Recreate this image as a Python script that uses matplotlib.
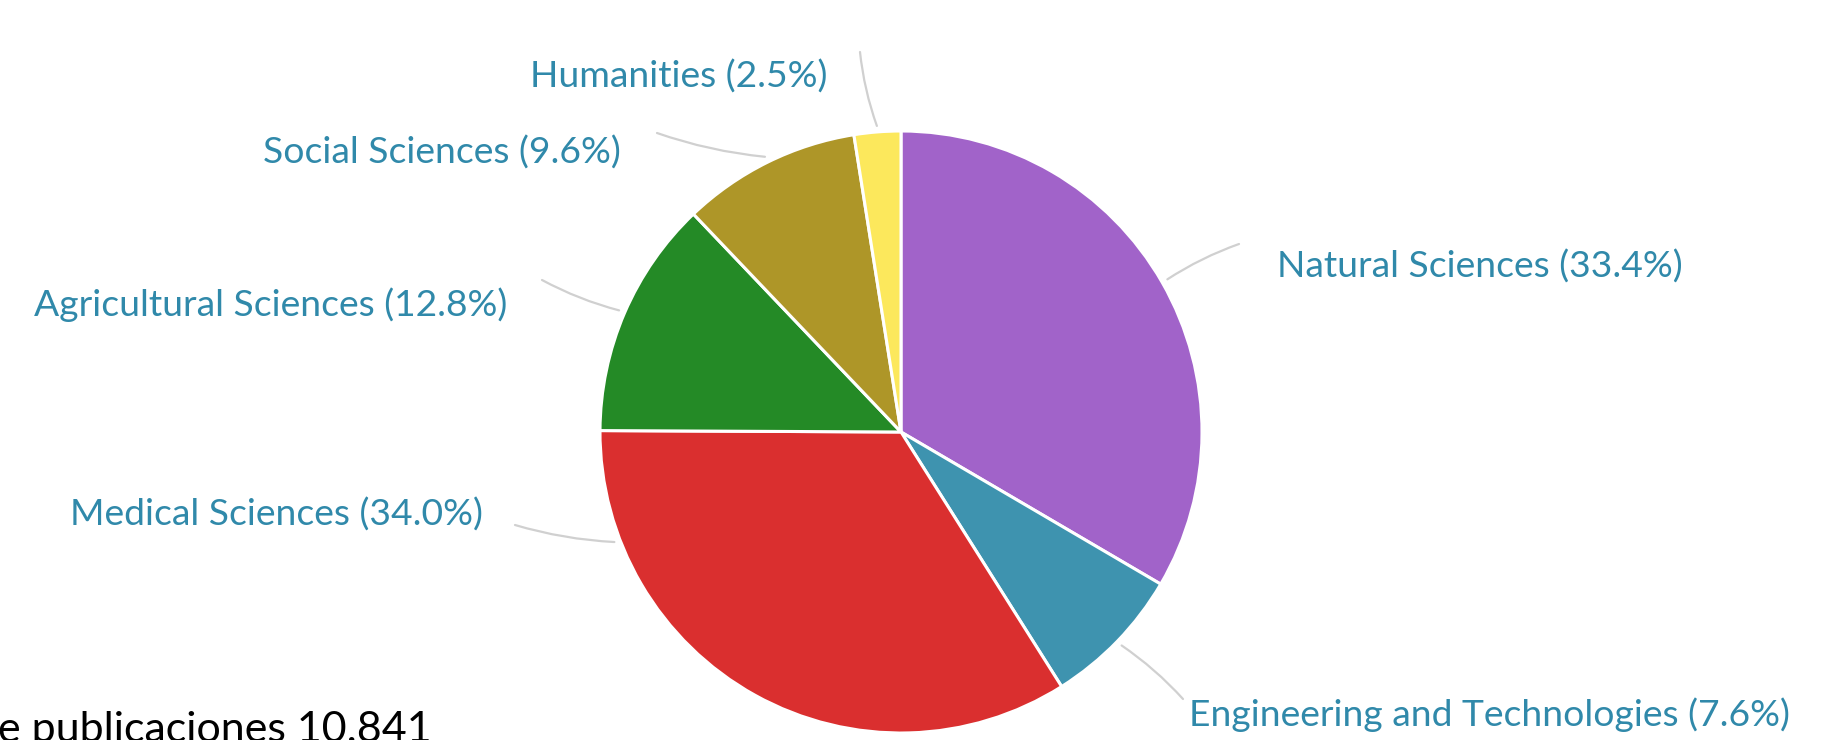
import numpy as np
import matplotlib
matplotlib.use("Agg")
import matplotlib.pyplot as plt

# share of publications by field (%), clockwise from 12 o'clock
fields = ["Natural Sciences", "Engineering and Technologies", "Medical Sciences",
          "Agricultural Sciences", "Social Sciences", "Humanities"]
shares = [33.4, 7.6, 34.0, 12.8, 9.6, 2.5]
colors = ["#A163C9", "#3E93AF", "#DA2F2F", "#248A26", "#AE9628", "#FCE85C"]
total_text = "e publicaciones 10.841"

# figure is laid out in pixels, y measured from the top of the image
W, H = 1837, 740
CENTER = (901, 432)
RADIUS = 301

# label anchor (px, top-origin), alignment, connector outer end, wedge angle override
label_pos = [(1277, 267), (1189, 715), (483, 515), (507, 305), (621, 153), (827, 77)]
label_ha = ["left", "left", "right", "right", "right", "right"]
line_end = [(1239, 244), (1183, 699), (515, 525), (542, 280), (657, 133), (860, 52)]
anchor_deg = [None, None, 201.0, None, None, None]

LABEL_COLOR = "#3089AA"
LINE_COLOR = "#D0D0D0"


def px(x, y_top):
    return x, H - y_top


fig = plt.figure(figsize=(W / 100, H / 100), dpi=100)
ax = fig.add_axes([0, 0, 1, 1])

wedges, _ = ax.pie(shares, colors=colors, startangle=90, counterclock=False,
                   center=px(*CENTER), radius=RADIUS,
                   wedgeprops=dict(edgecolor="white", linewidth=2.2))

ax.set_xlim(0, W)
ax.set_ylim(0, H)
ax.set_aspect("auto")
ax.axis("off")

cx, cy = px(*CENTER)
for i, w in enumerate(wedges):
    ang = anchor_deg[i] if anchor_deg[i] is not None else 0.5 * (w.theta1 + w.theta2)
    a = np.deg2rad(ang)
    anchor = (cx + 1.02 * RADIUS * np.cos(a), cy + 1.02 * RADIUS * np.sin(a))
    ax.annotate("", xy=anchor, xytext=px(*line_end[i]),
                arrowprops=dict(arrowstyle="-", color=LINE_COLOR, lw=1.6,
                                shrinkA=0, shrinkB=0,
                                connectionstyle="arc3,rad=0.06"))
    ax.text(*px(*label_pos[i]), f"{fields[i]} ({shares[i]:.1f}%)",
            ha=label_ha[i], va="center", fontsize=26.8, family="Lato",
            color=LABEL_COLOR)

# caption is cropped at the left and bottom edges in the source image
ax.text(*px(-2, 742), total_text, ha="left", va="baseline",
        fontsize=31, family="Lato", color="black")

fig.savefig("out.png", dpi=100)
